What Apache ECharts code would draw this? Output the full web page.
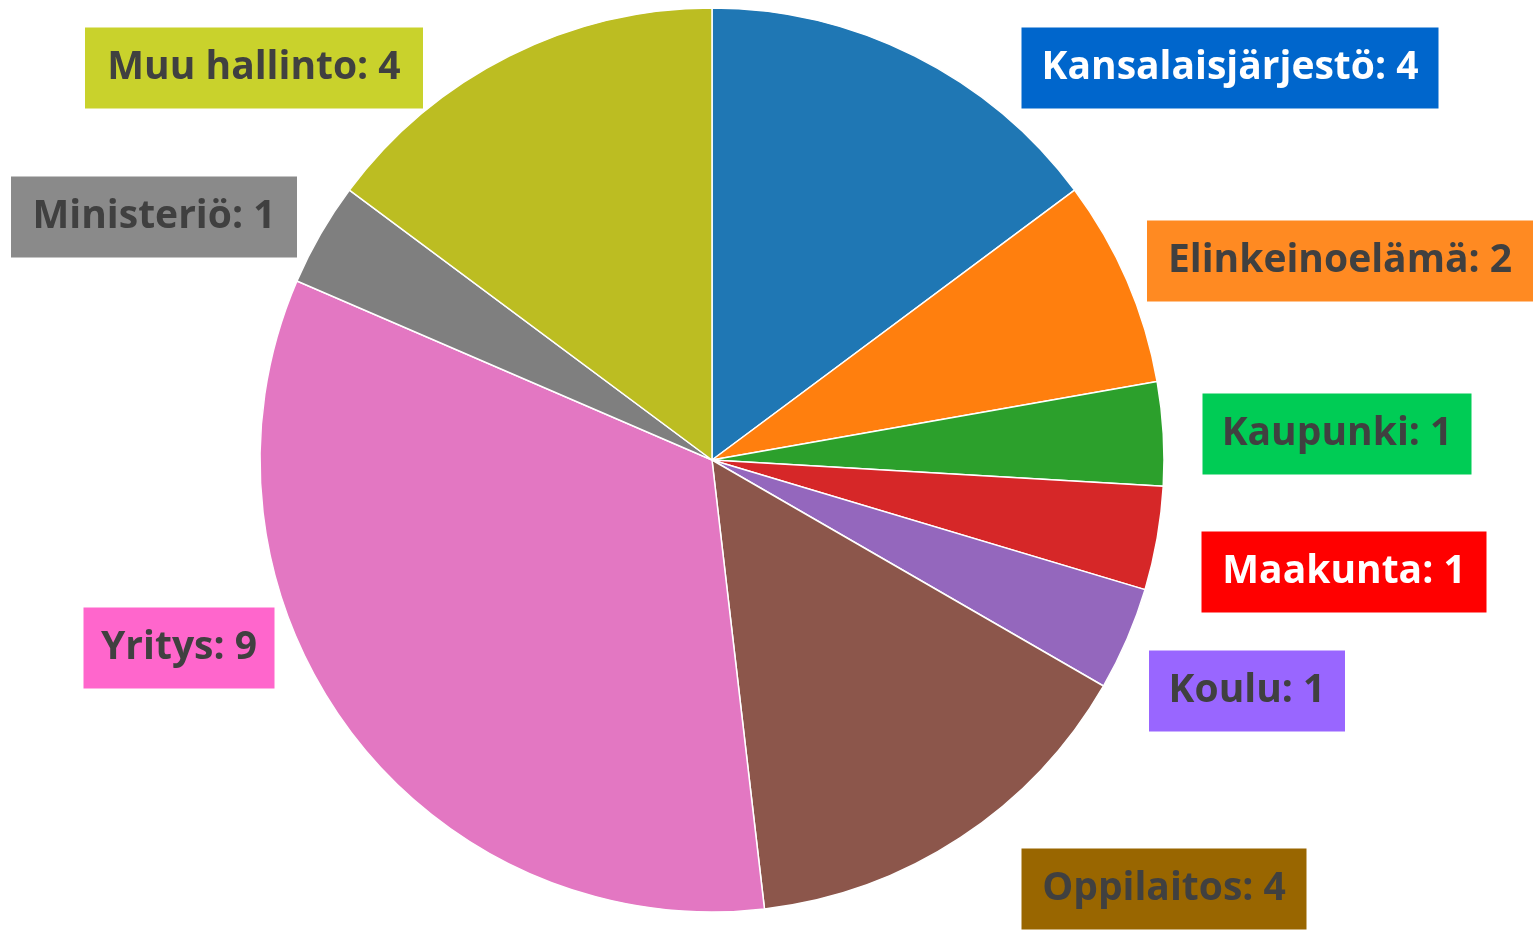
<!DOCTYPE html>
<html>
<head>
<meta charset="utf-8">
<script src="https://cdn.jsdelivr.net/npm/echarts@6/dist/echarts.min.js"></script>
<style>
  html, body { margin: 0; padding: 0; background: #fff; }
  #main { width: 1537px; height: 930px; }
</style>
</head>
<body>
<div id="main"></div>
<script>
var myChart = echarts.init(document.getElementById('main'));

// data
var categories = ['Kansalaisjärjestö', 'Elinkeinoelämä', 'Kaupunki', 'Maakunta', 'Koulu',
                  'Oppilaitos', 'Yritys', 'Ministeriö', 'Muu hallinto'];
var counts = [4, 2, 1, 1, 1, 4, 9, 1, 4];

// styles
var sliceColors = ['#1f77b4', '#ff7f0e', '#2ca02c', '#d62728', '#9467bd',
                   '#8c564b', '#e377c2', '#7f7f7f', '#bcbd22'];
var boxColors = ['#0066cc', '#ff8a22', '#00cc55', '#ff0000', '#9966ff',
                 '#996600', '#ff66cc', '#8a8a8a', '#c9d22c'];
var textColors = ['#ffffff', '#404040', '#404040', '#ffffff', '#404040',
                  '#404040', '#404040', '#404040', '#404040'];
// label box centres and widths
var boxCenters = [[1230, 68], [1340, 261], [1337, 434], [1344, 572], [1247, 691],
                  [1164, 889], [179, 648], [154, 217], [254, 68]];
var boxWidths = [417, 386, 269, 285, 196, 285, 191, 286, 338];

var data = categories.map(function (name, i) {
    return {
        name: name,
        value: counts[i],
        itemStyle: { color: sliceColors[i] },
        label: {
            backgroundColor: boxColors[i],
            color: textColors[i],
            width: boxWidths[i]
        }
    };
});

option = {
    backgroundColor: '#ffffff',
    animation: false,
    series: [{
        type: 'pie',
        center: [712, 460],
        radius: 452,
        startAngle: 90,
        clockwise: true,
        itemStyle: {
            borderColor: '#ffffff',
            borderWidth: 1.5
        },
        label: {
            show: true,
            position: 'outside',
            formatter: '{b}: {c}',
            fontFamily: 'Open Sans',
            fontWeight: 'bold',
            fontSize: 39,
            lineHeight: 41,
            padding: [23, 0, 17, 0],
            align: 'center'
        },
        labelLine: { show: false },
        labelLayout: function (params) {
            var c = boxCenters[params.dataIndex];
            return { x: c[0], y: c[1], align: 'center', verticalAlign: 'middle' };
        },
        data: data
    }]
};

myChart.setOption(option);
</script>
</body>
</html>
